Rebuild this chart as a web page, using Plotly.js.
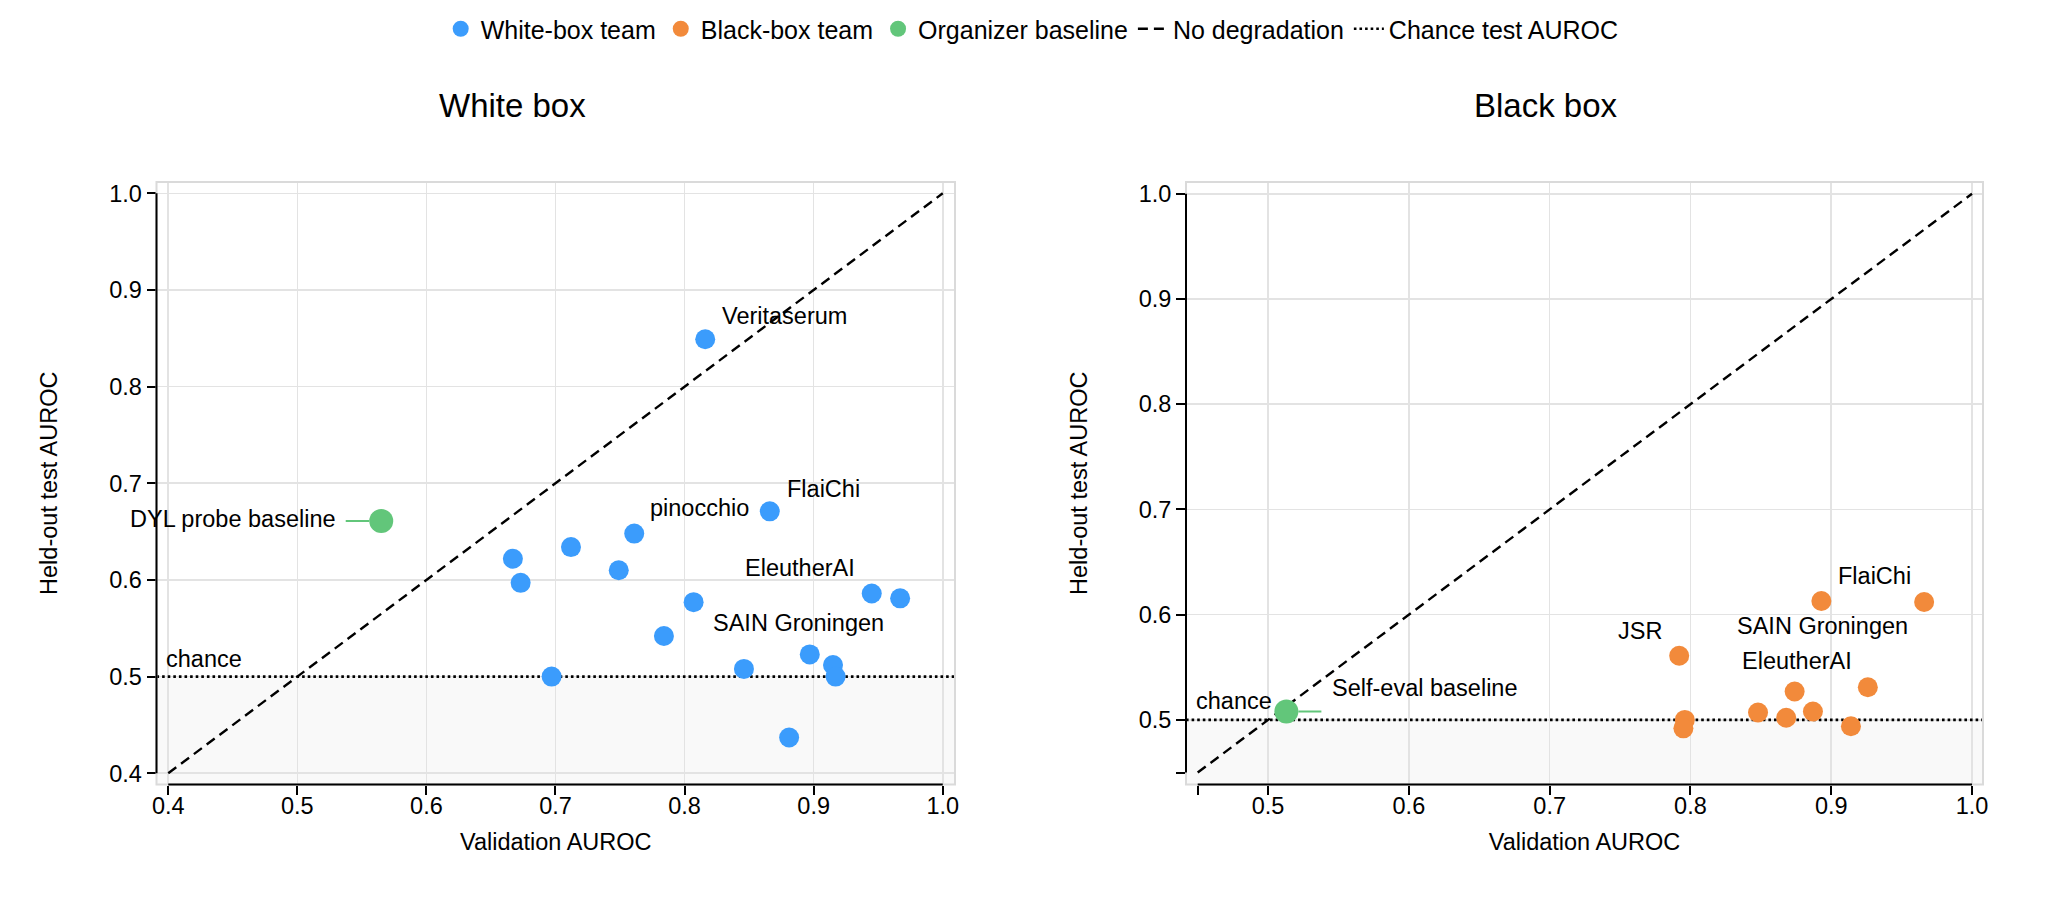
<!DOCTYPE html>
<html>
<head>
<meta charset="utf-8">
<script src="https://cdn.plot.ly/plotly-3.0.1.min.js"></script>
<style>html,body{margin:0;padding:0;background:#fff;}#chart{width:2048px;height:911px;}</style>
</head>
<body>
<div id="chart"></div>
<script>
// ---------- data ----------
const whiteTeams = ["Veritaserum","FlaiChi","pinocchio","","","","","","","","","SAIN Groningen","","","EleutherAI","",""];
const whiteVal   = [0.816,0.866,0.761,0.712,0.667,0.673,0.749,0.807,0.784,0.697,0.846,0.897,0.915,0.917,0.945,0.967,0.881];
const whiteTest  = [0.849,0.671,0.648,0.634,0.622,0.597,0.610,0.577,0.542,0.500,0.508,0.523,0.512,0.500,0.586,0.581,0.437];

const blackTeams = ["JSR","","","","","EleutherAI","","","SAIN Groningen","FlaiChi",""];
const blackVal   = [0.792,0.796,0.795,0.848,0.868,0.874,0.887,0.914,0.926,0.893,0.966];
const blackTest  = [0.561,0.500,0.492,0.507,0.502,0.527,0.508,0.494,0.531,0.613,0.612];

const whiteBaselineName = "DYL probe baseline";
const whiteBaselineVal  = [0.565];
const whiteBaselineTest = [0.661];
const blackBaselineName = "Self-eval baseline";
const blackBaselineVal  = [0.513];
const blackBaselineTest = [0.508];

const CHANCE = 0.5;
const whiteDiag = [0.4, 1.0];
const blackDiag = [0.45, 1.0];
const whiteTicks = [0.4,0.5,0.6,0.7,0.8,0.9,1.0];
const blackTicks = [0.5,0.6,0.7,0.8,0.9,1.0];
const blackMinorTicks = [0.45];

// ---------- styles ----------
const BLUE = "#3b9cfc", ORANGE = "#f28a3b", GREEN = "#62c67a";
const FONT = "Liberation Sans, Arial, Helvetica, sans-serif";
const FS = 23.5;
const xr1 = [0.3909, 1.0095], yr1 = [0.3884, 1.0117];
const xr2 = [0.4417, 1.0078], yr2 = [0.4386, 1.0112];

const traces = [
  {x: whiteDiag, y: whiteDiag, xaxis:'x', yaxis:'y', mode:'lines', name:'No degradation', legendrank:4, legendgroup:'nd',
   line:{color:'#000', width:2.4, dash:'10px,6px'}, hoverinfo:'skip'},
  {x: blackDiag, y: blackDiag, xaxis:'x2', yaxis:'y2', mode:'lines', name:'No degradation', legendgroup:'nd', showlegend:false,
   line:{color:'#000', width:2.4, dash:'10px,6px'}, hoverinfo:'skip'},
  {x: xr1, y: [CHANCE, CHANCE], xaxis:'x', yaxis:'y', mode:'lines', name:'Chance test AUROC', legendrank:5, legendgroup:'ch',
   line:{color:'#000', width:2.6, dash:'2.6px,3px'}, hoverinfo:'skip'},
  {x: xr2, y: [CHANCE, CHANCE], xaxis:'x2', yaxis:'y2', mode:'lines', name:'Chance test AUROC', legendgroup:'ch', showlegend:false,
   line:{color:'#000', width:2.6, dash:'2.6px,3px'}, hoverinfo:'skip'},
  {x: whiteVal, y: whiteTest, text: whiteTeams, xaxis:'x', yaxis:'y', mode:'markers', name:'White-box team', legendrank:1,
   marker:{color:BLUE, size:20}},
  {x: blackVal, y: blackTest, text: blackTeams, xaxis:'x2', yaxis:'y2', mode:'markers', name:'Black-box team', legendrank:2,
   marker:{color:ORANGE, size:20}},
  {x: whiteBaselineVal, y: whiteBaselineTest, xaxis:'x', yaxis:'y', mode:'markers', name:'Organizer baseline', legendrank:3, legendgroup:'ob',
   marker:{color:GREEN, size:24}},
  {x: blackBaselineVal, y: blackBaselineTest, xaxis:'x2', yaxis:'y2', mode:'markers', name:'Organizer baseline', legendgroup:'ob', showlegend:false,
   marker:{color:GREEN, size:24}}
];

// ---------- label annotations (offsets in px from each point) ----------
const whiteLabelOffsets = {
  "Veritaserum":   {xanchor:'left',   dx:16,    dy:23},
  "FlaiChi":       {xanchor:'left',   dx:16,    dy:22},
  "pinocchio":     {xanchor:'left',   dx:15,    dy:26},
  "EleutherAI":    {xanchor:'right',  dx:-16,   dy:25.5},
  "SAIN Groningen":{xanchor:'center', dx:-11,   dy:31}
};
const blackLabelOffsets = {
  "JSR":           {xanchor:'right',  dx:-16,   dy:25},
  "FlaiChi":       {xanchor:'left',   dx:16,    dy:25},
  "SAIN Groningen":{xanchor:'center', dx:-45.5, dy:61},
  "EleutherAI":    {xanchor:'center', dx:2.5,   dy:30}
};
const annFont = {family:FONT, size:FS, color:'#000'};
const annotations = [];
function addLabels(names, xs, ys, offs, xref, yref){
  names.forEach((n,i)=>{
    if(!n || !offs[n]) return;
    const o = offs[n];
    annotations.push({x:xs[i], y:ys[i], xref:xref, yref:yref, text:n, showarrow:false,
      xanchor:o.xanchor, yanchor:'middle', xshift:o.dx, yshift:o.dy, borderpad:0, font:annFont});
  });
}
addLabels(whiteTeams, whiteVal, whiteTest, whiteLabelOffsets, 'x', 'y');
addLabels(blackTeams, blackVal, blackTest, blackLabelOffsets, 'x2', 'y2');

// baseline connectors + labels
annotations.push({x:whiteBaselineVal[0], y:whiteBaselineTest[0], xref:'x', yref:'y', text:'', showarrow:true,
  ax:-37, ay:0, arrowhead:0, arrowwidth:2, arrowcolor:GREEN, standoff:12});
annotations.push({x:whiteBaselineVal[0], y:whiteBaselineTest[0], xref:'x', yref:'y', text:whiteBaselineName, showarrow:false,
  xanchor:'right', yanchor:'middle', xshift:-44, yshift:2, borderpad:0, font:annFont});
annotations.push({x:blackBaselineVal[0], y:blackBaselineTest[0], xref:'x2', yref:'y2', text:'', showarrow:true,
  ax:36.5, ay:0, arrowhead:0, arrowwidth:2, arrowcolor:GREEN, standoff:12});
annotations.push({x:blackBaselineVal[0], y:blackBaselineTest[0], xref:'x2', yref:'y2', text:blackBaselineName, showarrow:false,
  xanchor:'left', yanchor:'middle', xshift:44.5, yshift:23, borderpad:0, font:annFont});
// chance labels
annotations.push({x:whiteDiag[0], y:CHANCE, xref:'x', yref:'y', text:'chance', showarrow:false,
  xanchor:'left', yanchor:'middle', xshift:-3.3, yshift:18, borderpad:0, font:annFont});
annotations.push({x:blackDiag[0], y:CHANCE, xref:'x2', yref:'y2', text:'chance', showarrow:false,
  xanchor:'left', yanchor:'middle', xshift:-2.7, yshift:18.5, borderpad:0, font:annFont});
// subplot titles
annotations.push({x:512/2048, y:1-105/911, xref:'paper', yref:'paper', text:'White box', showarrow:false,
  xanchor:'center', yanchor:'middle', font:{family:FONT, size:33, color:'#000'}});
annotations.push({x:1546/2048, y:1-105/911, xref:'paper', yref:'paper', text:'Black box', showarrow:false,
  xanchor:'center', yanchor:'middle', font:{family:FONT, size:33, color:'#000'}});

// ---------- shapes: shading, frames, axis lines ----------
function panelShapes(xa, ya, xr, yr, xLine, yLine){
  return [
    {type:'rect', xref:xa+' domain', x0:0, x1:1, yref:ya, y0:yr[0], y1:CHANCE, fillcolor:'#f9f9f9', line:{width:0}, layer:'below'},
    {type:'rect', xref:xa+' domain', x0:0, x1:1, yref:ya+' domain', y0:0, y1:1, line:{color:'#dadada', width:2}, layer:'above'},
    {type:'line', xref:xa+' domain', x0:0, x1:0, yref:ya, y0:yLine[0], y1:yLine[1], line:{color:'#000', width:2}, layer:'above'},
    {type:'line', xref:xa, x0:xLine[0], x1:xLine[1], yref:ya+' domain', y0:0, y1:0, line:{color:'#000', width:2}, layer:'above'}
  ];
}
const shapes = [].concat(
  panelShapes('x','y', xr1, yr1, [whiteTicks[0], whiteTicks[whiteTicks.length-1]], [whiteTicks[0], whiteTicks[whiteTicks.length-1]]),
  panelShapes('x2','y2', xr2, yr2, [blackMinorTicks[0], blackTicks[blackTicks.length-1]], [blackMinorTicks[0], blackTicks[blackTicks.length-1]])
);

function axis(domain, range, ticks, anchor, titleText, isY, minor){
  const a = {
    domain: domain, range: range, anchor: anchor, tickmode:'array', tickvals: ticks,
    ticktext: ticks.map(v=>v.toFixed(1)),
    showgrid:true, gridcolor:'#e3e3e3', gridwidth:1.6, zeroline:false, showline:false,
    ticks:'outside', ticklen:9, tickwidth:2, tickcolor:'#000',
    tickfont:{family:FONT, size:FS, color:'#000'},
    title:{text:titleText, font:{family:FONT, size:FS, color:'#000'}, standoff: isY ? 44 : 15},
    automargin:false, fixedrange:true
  };
  if(!isY){ a.ticklabelstandoff = -9; }
  if(minor){ a.minor = {tickmode:'array', tickvals:minor, ticks:'outside', ticklen:9, tickwidth:2, tickcolor:'#000', showgrid:false}; }
  return a;
}
const ydom = [(911-784.5)/911, (911-182)/911];
const layout = {
  width:2048, height:911, margin:{l:0,r:0,t:0,b:0},
  paper_bgcolor:'#fff', plot_bgcolor:'rgba(0,0,0,0)',
  font:{family:FONT, size:FS, color:'#000'},
  showlegend:true,
  legend:{orientation:'h', x:0.504, xanchor:'center', y:1-6/911, yanchor:'top',
          font:{family:FONT, size:25, color:'#000'}, bgcolor:'rgba(0,0,0,0)'},
  xaxis: axis([156.5/2048, 955/2048], xr1, whiteTicks, 'y', 'Validation AUROC', false),
  yaxis: axis(ydom, yr1, whiteTicks, 'x', 'Held-out test AUROC', true),
  xaxis2: axis([1186/2048, 1983/2048], xr2, blackTicks, 'y2', 'Validation AUROC', false, blackMinorTicks),
  yaxis2: axis(ydom, yr2, blackTicks, 'x2', 'Held-out test AUROC', true, blackMinorTicks),
  annotations: annotations, shapes: shapes, hovermode:false
};
Plotly.newPlot('chart', traces, layout, {displayModeBar:false, staticPlot:true});
</script>
</body>
</html>
